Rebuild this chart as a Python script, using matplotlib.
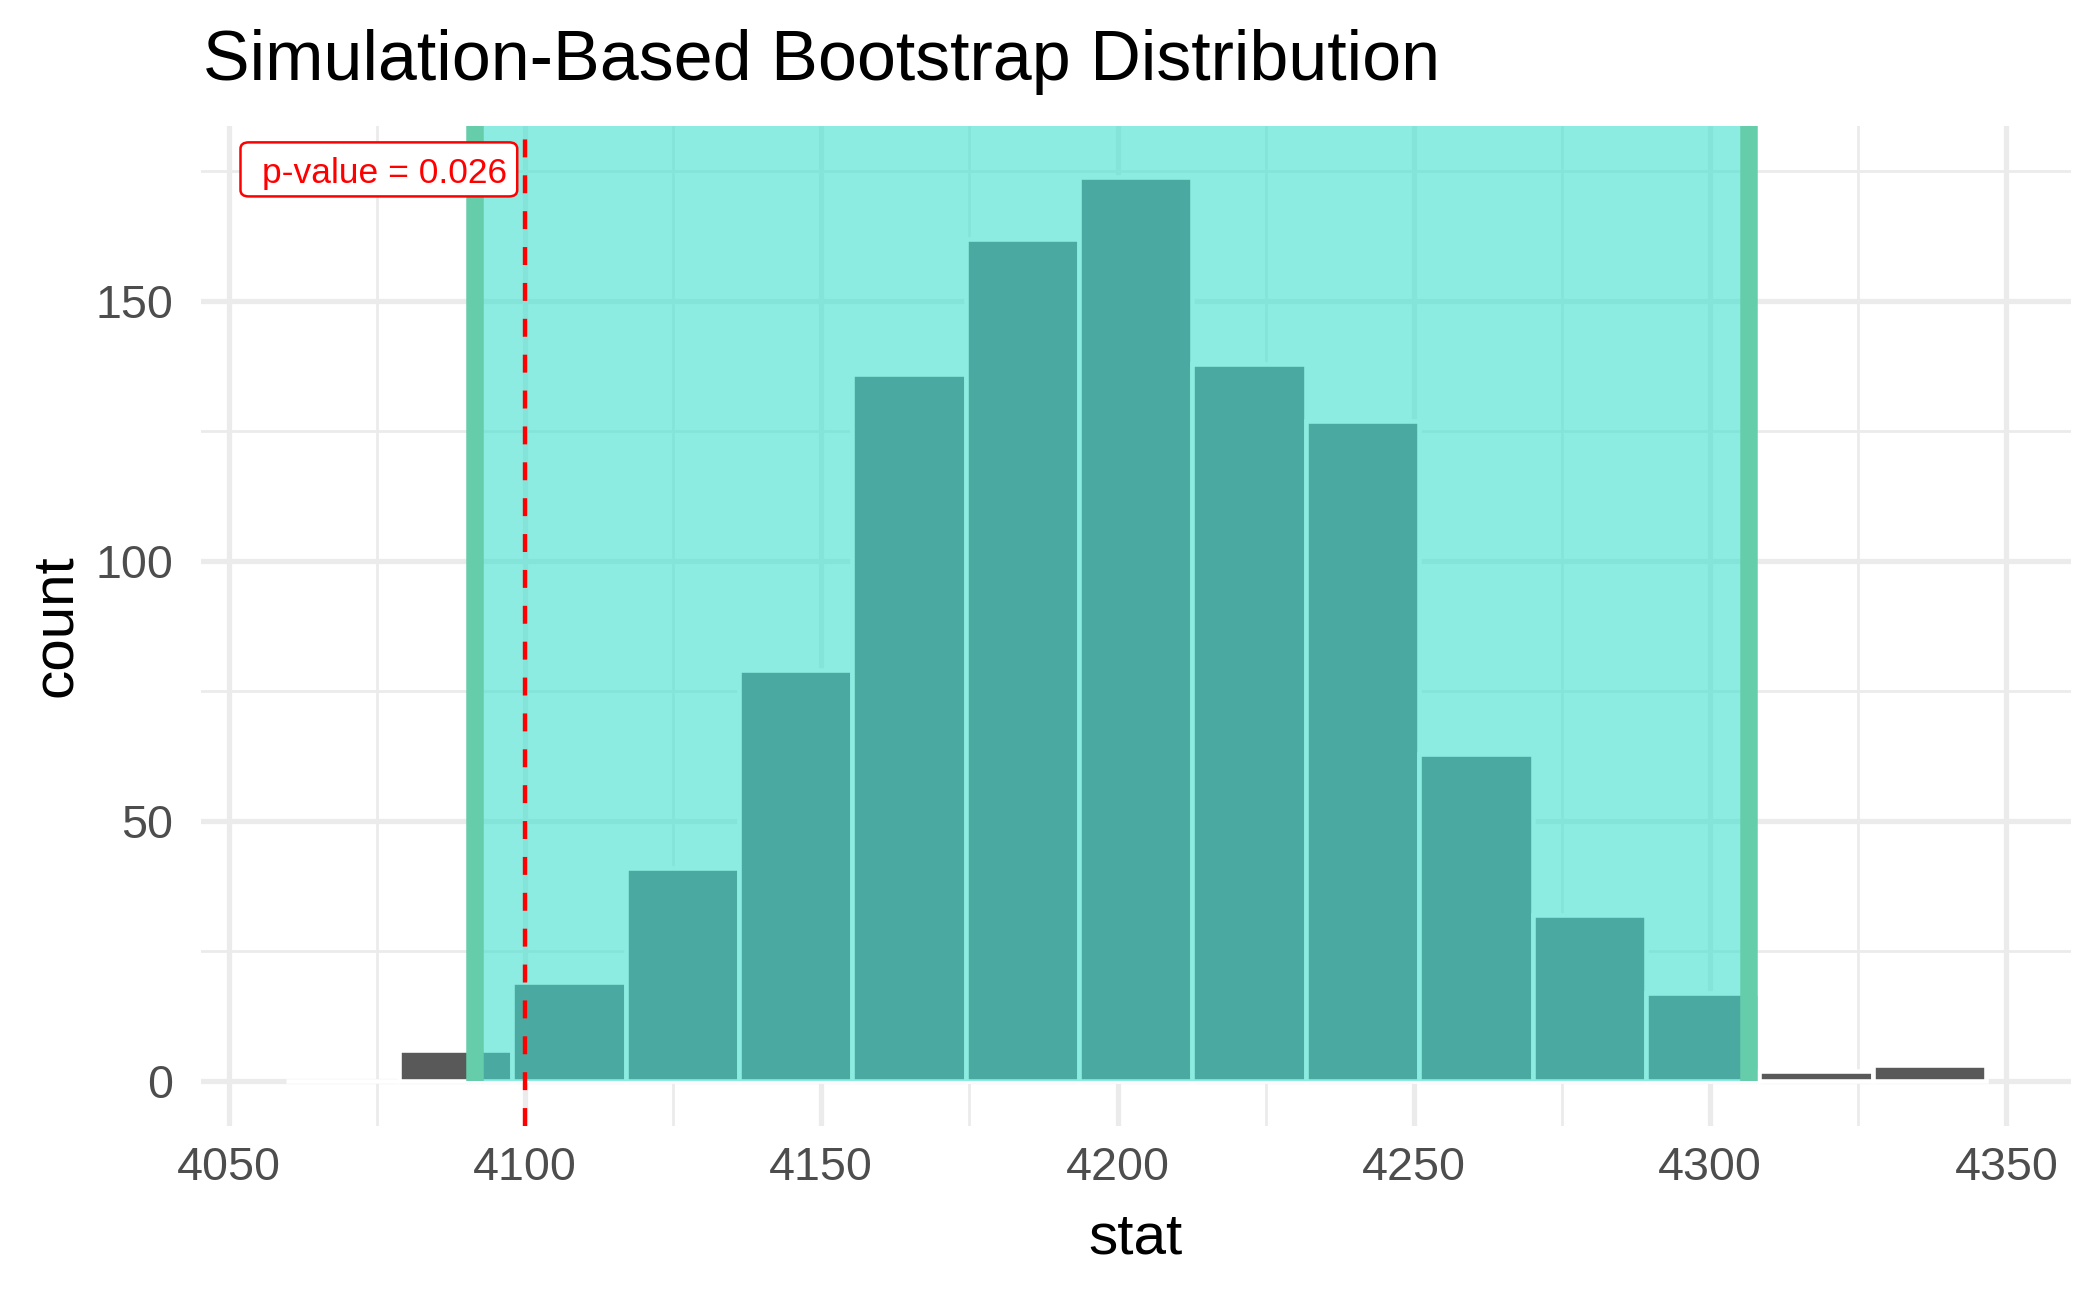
import numpy as np
import matplotlib
matplotlib.use("Agg")
import matplotlib.pyplot as plt
from matplotlib.patches import FancyBboxPatch

plt.rcParams['font.family'] = ['Liberation Sans', 'DejaVu Sans']

# histogram of the bootstrap statistic (15 bins)
bin_start = 4059.6
bin_width = 19.13
counts = [0, 6, 19, 41, 79, 136, 162, 174, 138, 127, 63, 32, 17, 2, 3]

# confidence interval endpoints and observed statistic
ci_low = 4091.6
ci_high = 4306.6
obs_stat = 4100
p_value = 0.026

x_ticks = [4050, 4100, 4150, 4200, 4250, 4300, 4350]
y_ticks = [0, 50, 100, 150]

title = "Simulation-Based Bootstrap Distribution"

lefts = bin_start + bin_width * np.arange(len(counts))
x_min, x_max = lefts[0], lefts[-1] + bin_width
x_pad = (x_max - x_min) * 0.05
y_top = 175  # label sits at the top gridline, so the scale reaches it
y_pad = y_top * 0.05

fig = plt.figure(figsize=(7, 1297 / 300), dpi=300)
ax = fig.add_axes([200.5 / 2100, 1 - 1126.4 / 1297, 1870.5 / 2100, 1000.4 / 1297])

ax.set_xlim(x_min - x_pad, x_max + x_pad)
ax.set_ylim(-y_pad, y_top + y_pad)
ax.set_xticks(x_ticks)
ax.set_xticks([t + 25 for t in x_ticks[:-1]], minor=True)
ax.set_yticks(y_ticks)
ax.set_yticks([t + 25 for t in y_ticks], minor=True)

ax.set_axisbelow(True)
ax.grid(which='major', color='#EBEBEB', lw=1.25)
ax.grid(which='minor', color='#EBEBEB', lw=0.65)
for s in ax.spines.values():
    s.set_visible(False)
ax.tick_params(which='both', length=0)
ax.tick_params(axis='y', pad=6.6, labelsize=11.2, labelcolor='#4D4D4D')
ax.tick_params(axis='x', pad=4.8, labelsize=11.2, labelcolor='#4D4D4D')

# bars
ax.bar(lefts, counts, width=bin_width, align='edge', color='#595959',
       edgecolor='white', linewidth=1.1, zorder=2)

# shaded CI
ymax = ax.get_ylim()[1]
ax.fill_betweenx([0, ymax], ci_low, ci_high, color='#40E0D0', alpha=0.6,
                 lw=0, zorder=3)
ax.vlines([ci_low, ci_high], 0, ymax, color='#66CDAA', lw=4.2, zorder=4)

# observed statistic
ax.axvline(obs_stat, color='red', lw=1.05, ls=(0, (4.1, 4.1)), zorder=5)

# p-value label
box = FancyBboxPatch((4052.0, 170.2), 46.7, 10.4,
                     boxstyle="round,pad=0,rounding_size=1.4",
                     mutation_aspect=5.196 / 5.929 * 1.0,
                     facecolor='white', edgecolor='red', lw=0.6, zorder=6)
ax.add_patch(box)
ax.text(4055.7, 172.75, "p-value = %.3f" % p_value, color='red', fontsize=8.5,
        ha='left', va='baseline', zorder=7)

ax.set_xlabel("stat", fontsize=14)
ax.xaxis.label.set_va('baseline')
ax.xaxis.set_label_coords(0.5, (1126.4 - 1253) / 1000.4)
ax.set_ylabel("count", fontsize=14)
ax.yaxis.label.set_va('center')
ax.yaxis.set_label_coords((56 - 200.5) / 1870.5, 0.501)

fig.text(203 / 2100, 1 - 80 / 1297, title, fontsize=16.8, ha='left', va='baseline')

fig.savefig("out.png", dpi=300)
